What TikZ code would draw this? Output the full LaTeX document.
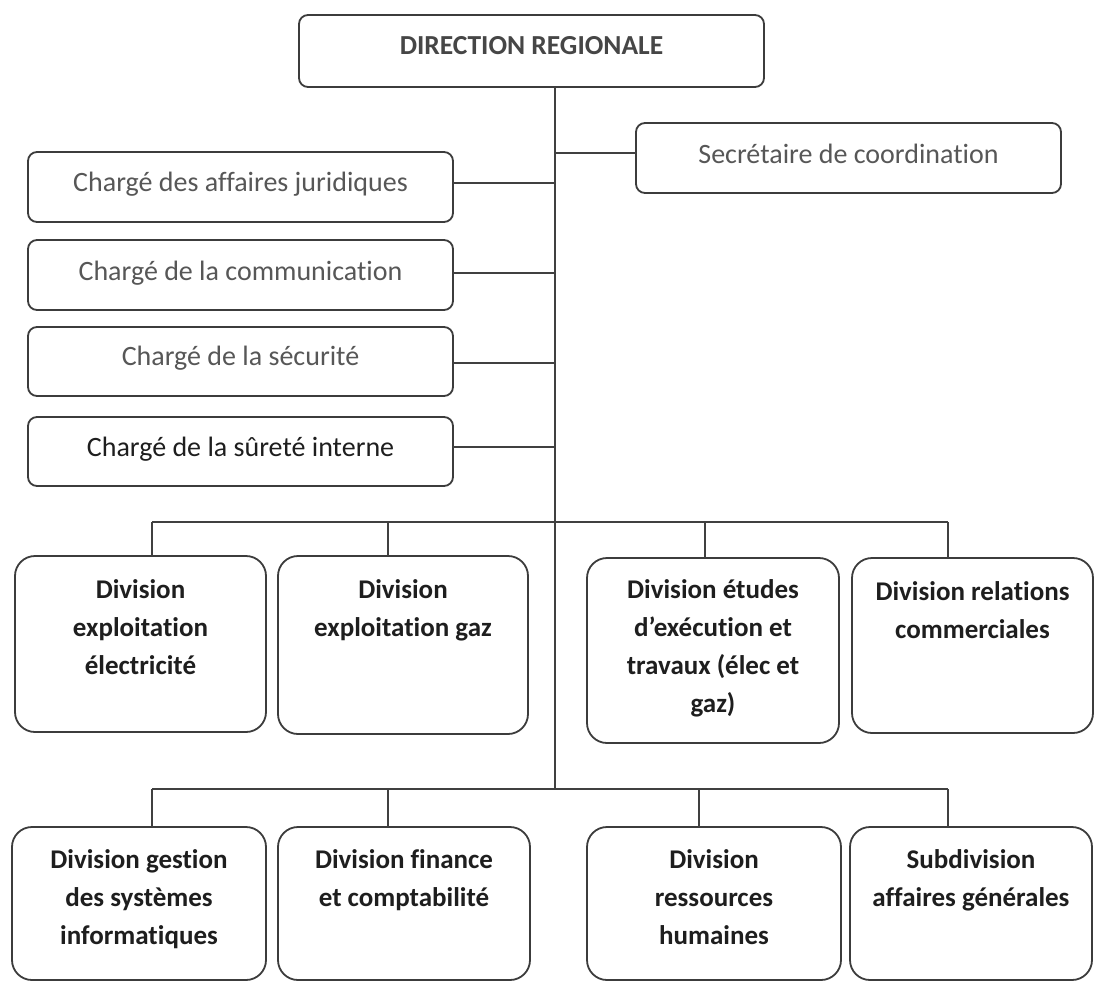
\documentclass[tikz,border=0pt]{standalone}
\usepackage{fontspec}
\setmainfont{Carlito}[Ligatures=NoCommon]
\usetikzlibrary{calc}
\definecolor{boxc}{HTML}{3C3C3C}
\definecolor{linec}{HTML}{404040}
\definecolor{grayt}{HTML}{575757}
\definecolor{darkt}{HTML}{1E1E1E}
\begin{document}
\begin{tikzpicture}[x=1pt,y=-1pt,
  box/.style={draw=boxc, line width=1.8pt, rounded corners=9pt, inner sep=0pt, outer sep=0pt, anchor=north west},
  divbox/.style={box, rounded corners=20pt},
  toptext/.style={font=\fontsize{27.5}{32}\selectfont\bfseries, text=grayt!80!black, inner sep=0pt},
  chtext/.style={font=\fontsize{28}{32}\selectfont, text=grayt, inner sep=0pt},
  divtext/.style={font=\fontsize{27}{38}\selectfont\bfseries, align=center, anchor=north, inner sep=0pt, text=darkt},
  conn/.style={draw=linec, line width=1.5pt}
]
\useasboundingbox (0,0) rectangle (1096,983);
\fill[white] (0,0) rectangle (1096,983);

% boxes
\node[box, minimum width=465pt, minimum height=72pt] (dir) at (299,15) {};
\node[box, minimum width=425pt, minimum height=70pt] (sec) at (636,123) {};
\node[box, minimum width=425pt, minimum height=70pt] (jur) at (28,152) {};
\node[box, minimum width=425pt, minimum height=70pt] (com) at (28,240) {};
\node[box, minimum width=425pt, minimum height=69pt] (secu) at (28,327) {};
\node[box, minimum width=425pt, minimum height=69pt] (sur) at (28,417) {};

\node[divbox, minimum width=251pt, minimum height=176pt] (d1) at (15,556) {};
\node[divbox, minimum width=250pt, minimum height=178pt] (d2) at (278,556) {};
\node[divbox, minimum width=252pt, minimum height=185pt] (d3) at (587,558) {};
\node[divbox, minimum width=241pt, minimum height=175pt] (d4) at (852,558) {};

\node[divbox, minimum width=254pt, minimum height=153pt] (e1) at (12,827) {};
\node[divbox, minimum width=252pt, minimum height=153pt] (e2) at (278,827) {};
\node[divbox, minimum width=254pt, minimum height=153pt] (e3) at (587,827) {};
\node[divbox, minimum width=242pt, minimum height=153pt] (e4) at (850,827) {};

% texts
\node[toptext] (dirt) at ($(dir.north)+(0,31)$) {DIRECTION REGIONALE};
\node[chtext] (sect) at ($(sec.north)+(0,31)$) {Secrétaire de coordination};
\node[chtext] (jurt) at ($(jur.north)+(0,32)$) {Chargé des affaires juridiques};
\node[chtext] (comt) at ($(com.north)+(0,33)$) {Chargé de la communication};
\node[chtext] (secut) at ($(secu.north)+(0,31)$) {Chargé de la sécurité};
\node[chtext, text=darkt] (surt) at ($(sur.north)+(0,32)$) {Chargé de la sûreté interne};

\node[divtext] (d1t) at ($(d1.north)+(0,16)$) {\strut Division\\exploitation\\électricité};
\node[divtext] (d2t) at ($(d2.north)+(0,16)$) {\strut Division\\exploitation gaz};
\node[divtext] (d3t) at ($(d3.north)+(0,14)$) {\strut Division études\\d’exécution et\\travaux (élec et\\gaz)};
\node[divtext] (d4t) at ($(d4.north)+(0,16)$) {\strut Division relations\\commerciales};

\node[divtext] (e1t) at ($(e1.north)+(0,15)$) {\strut Division gestion\\des systèmes\\informatiques};
\node[divtext] (e2t) at ($(e2.north)+(0,15)$) {\strut Division finance\\et comptabilité};
\node[divtext] (e3t) at ($(e3.north)+(0,15)$) {\strut Division\\ressources\\humaines};
\node[divtext] (e4t) at ($(e4.north)+(0,15)$) {\strut Subdivision\\affaires générales};

% connectors
\coordinate (trunk) at (555,789);
\draw[conn] (trunk |- dir.south) -- (trunk);
\draw[conn] (555,153) -- (sec.west |- 0,153);
\draw[conn] (jur.east |- 0,183) -- (555,183);
\draw[conn] (com.east |- 0,273) -- (555,273);
\draw[conn] (secu.east |- 0,363) -- (555,363);
\draw[conn] (sur.east |- 0,447) -- (555,447);

\draw[conn] (152,522) -- (948,522);
\draw[conn] (152,522) -- (152,0 |- d1.north);
\draw[conn] (388,522) -- (388,0 |- d2.north);
\draw[conn] (705,522) -- (705,0 |- d3.north);
\draw[conn] (948,522) -- (948,0 |- d4.north);

\draw[conn] (152,789) -- (948,789);
\draw[conn] (152,789) -- (152,0 |- e1.north);
\draw[conn] (388,789) -- (388,0 |- e2.north);
\draw[conn] (699,789) -- (699,0 |- e3.north);
\draw[conn] (948,789) -- (948,0 |- e4.north);
\end{tikzpicture}
\end{document}
